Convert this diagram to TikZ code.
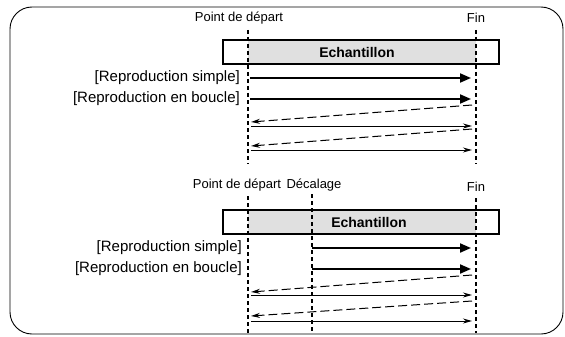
\documentclass[tikz,border=0pt]{standalone}
\usepackage{fontspec}
\setmainfont{Liberation Sans}
\usetikzlibrary{arrows.meta}
\begin{document}
\begin{tikzpicture}[x=1pt,y=-1pt,
  frame/.style={draw, line width=0.9pt, rounded corners=22pt},
  vdash/.style={line width=1.6pt, dash pattern=on 4pt off 3pt},
  thickarr/.style={line width=2pt, -{Triangle[length=11pt,width=9pt]}},
  thinarr/.style={line width=1pt, -{Stealth[length=9pt,width=5pt]}},
  backarr/.style={line width=1pt, dash pattern=on 9pt off 4pt, -{Stealth[length=9pt,width=5pt]}},
  toplabel/.style={font=\fontsize{13}{15}\selectfont, inner sep=0pt},
  rowlabel/.style={font=\fontsize{15}{17}\selectfont, inner sep=0pt, anchor=east},
  boxlabel/.style={font=\bfseries\fontsize{14}{16}\selectfont, inner sep=0pt},
  sample/.style={draw, line width=2pt, minimum width=276pt, minimum height=24pt, inner sep=0pt}
]
\useasboundingbox (0,0) rectangle (565,337);
\draw[frame] (10,7) rectangle (563,334);

% ---------- top section ----------
\fill[black!12] (248,40) rectangle (476,64);
\node[sample] (boxA) at (361,52) {};
\node[boxlabel] (echA) at (357,52) {Echantillon};
\node[toplabel] (startA) at (239,18) {Point de départ};
\node[toplabel] (finA) at (476,18) {Fin};
\coordinate (sA1) at (248,30); \coordinate (sA2) at (248,164);
\coordinate (fA1) at (476,30); \coordinate (fA2) at (476,164);
\draw[vdash] (sA1) -- (sA2);
\draw[vdash] (fA1) -- (fA2);

\node[rowlabel] (simpleA) at (240,78) {[Reproduction simple]};
\node[rowlabel] (loopA) at (240,99) {[Reproduction en boucle]};
\coordinate (a1s) at (250,78); \coordinate (a1e) at (471,78);
\coordinate (a2s) at (250,99); \coordinate (a2e) at (471,99);
\draw[thickarr] (a1s) -- (a1e);
\draw[thickarr] (a2s) -- (a2e);
\coordinate (d1s) at (472,105); \coordinate (d1e) at (251,122);
\coordinate (t1s) at (251,126); \coordinate (t1e) at (472,126);
\coordinate (d2s) at (472,129); \coordinate (d2e) at (251,146);
\coordinate (t2s) at (251,150); \coordinate (t2e) at (472,150);
\draw[backarr] (d1s) -- (d1e);
\draw[thinarr] (t1s) -- (t1e);
\draw[backarr] (d2s) -- (d2e);
\draw[thinarr] (t2s) -- (t2e);

% ---------- bottom section ----------
\fill[black!12] (248,210) rectangle (476,234);
\node[sample] (boxB) at (361,222) {};
\node[boxlabel] (echB) at (369,222) {Echantillon};
\node[toplabel] (startB) at (237,185) {Point de départ};
\node[toplabel] (decB) at (314,185) {Décalage};
\node[toplabel] (finB) at (476,187) {Fin};
\coordinate (sB1) at (248,196); \coordinate (sB2) at (248,333);
\coordinate (oB1) at (312,194); \coordinate (oB2) at (312,333);
\coordinate (fB1) at (476,198); \coordinate (fB2) at (476,333);
\draw[vdash] (sB1) -- (sB2);
\draw[vdash] (oB1) -- (oB2);
\draw[vdash] (fB1) -- (fB2);

\node[rowlabel] (simpleB) at (242,248) {[Reproduction simple]};
\node[rowlabel] (loopB) at (242,269) {[Reproduction en boucle]};
\coordinate (b1s) at (312,248); \coordinate (b1e) at (471,248);
\coordinate (b2s) at (312,269); \coordinate (b2e) at (471,269);
\draw[thickarr] (b1s) -- (b1e);
\draw[thickarr] (b2s) -- (b2e);
\coordinate (e1s) at (472,275); \coordinate (e1e) at (251,292);
\coordinate (u1s) at (251,295); \coordinate (u1e) at (472,295);
\coordinate (e2s) at (472,301); \coordinate (e2e) at (251,316);
\coordinate (u2s) at (251,321); \coordinate (u2e) at (472,321);
\draw[backarr] (e1s) -- (e1e);
\draw[thinarr] (u1s) -- (u1e);
\draw[backarr] (e2s) -- (e2e);
\draw[thinarr] (u2s) -- (u2e);
\end{tikzpicture}
\end{document}
